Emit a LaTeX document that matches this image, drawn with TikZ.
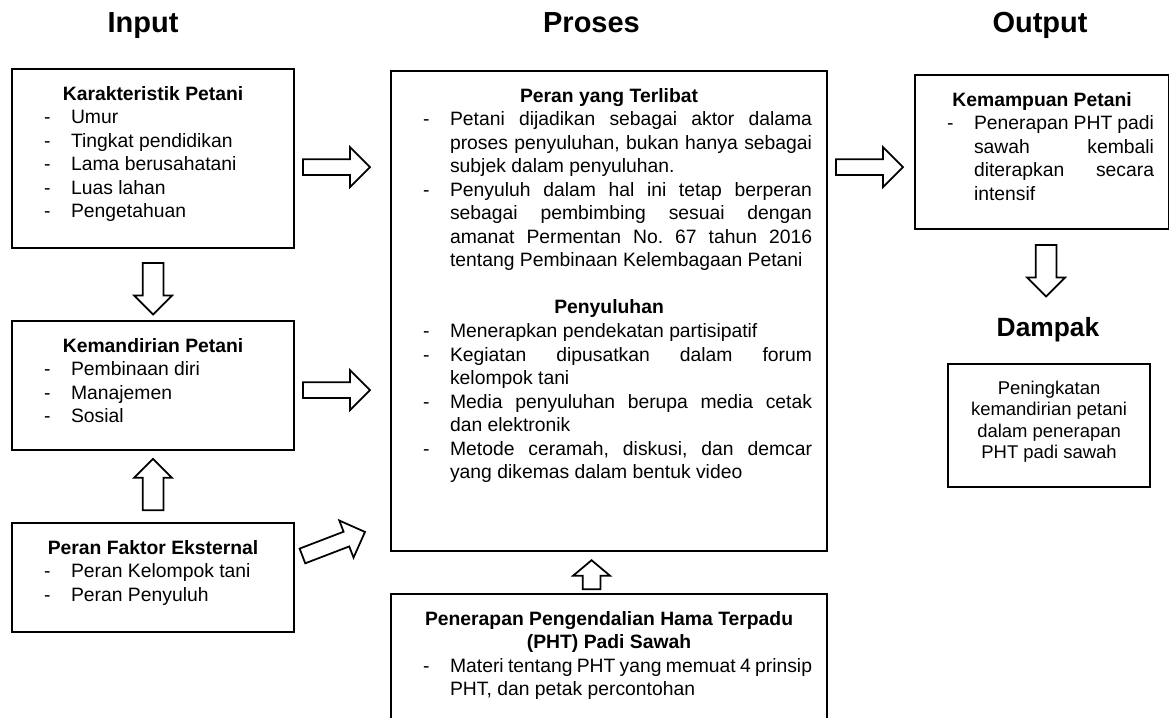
\documentclass[tikz,border=0pt]{standalone}
\usepackage{fontspec}
\setmainfont{Liberation Sans}
\usetikzlibrary{positioning,calc,shapes.arrows}
\hyphenpenalty=10000
\frenchspacing
\newcommand{\boxbody}[3]{\parbox[t][#1][t]{#2}{\vspace*{0.06cm}#3}}
\newcommand{\ttl}[1]{{\centering\bfseries #1\par}}
\newcommand{\itm}[1]{\par{\hangindent=0.88cm\hangafter=1\noindent\hspace*{0.34cm}\makebox[0.54cm][l]{-}#1\par}}

\begin{document}
\begin{tikzpicture}[
  font=\fontsize{11}{13.4}\selectfont,
  box/.style={draw,line width=1.2pt,inner xsep=0.3cm,inner ysep=0.28cm,anchor=north west},
  hdr/.style={font=\fontsize{16.5}{20}\selectfont\bfseries,anchor=base},
  barr/.style={single arrow,draw,fill=white,line width=1pt,inner xsep=0pt,
               text height=0pt,text depth=0pt,single arrow tip angle=90},
  rarr/.style={barr,inner ysep=0.14cm,single arrow head extend=0.24cm,minimum height=1.34cm},
  varr/.style={barr,inner ysep=0.19cm,single arrow head extend=0.17cm,minimum height=1.03cm}]
\clip (0,0) rectangle (23.38,-14.36);
% headings
\node[hdr] (tin)  at (2.86,-0.66)  {Input};
\node[hdr] (tpro) at (11.83,-0.66) {Proses};
\node[hdr] (tout) at (20.8,-0.66)  {Output};
% input column
\node[box] (kar) at (0.22,-1.36) {\boxbody{3.02cm}{5.04cm}{\ttl{Karakteristik Petani}
  \itm{Umur}\itm{Tingkat pendidikan}\itm{Lama berusahatani}\itm{Luas lahan}\itm{Pengetahuan}}};
\node[box,below=1.42cm of kar] (kem) {\boxbody{2.02cm}{5.04cm}{\ttl{Kemandirian Petani}
  \itm{Pembinaan diri}\itm{Manajemen}\itm{Sosial}}};
\node[box,below=1.42cm of kem] (eks) {\boxbody{1.62cm}{5.04cm}{\ttl{Peran Faktor Eksternal}
  \itm{Peran Kelompok tani}\itm{Peran Penyuluh}}};
% process column
\node[box] (pro) at (7.8,-1.4) {\boxbody{9.04cm}{8.12cm}{\ttl{Peran yang Terlibat}
  \itm{Petani dijadikan sebagai aktor dalama\linebreak proses penyuluhan, bukan hanya sebagai\linebreak subjek dalam penyuluhan.}
  \itm{Penyuluh dalam hal ini tetap berperan\linebreak sebagai pembimbing sesuai dengan\linebreak amanat Permentan No. 67 tahun 2016\linebreak tentang Pembinaan Kelembagaan Petani}
  \vspace{13.4pt}
  \ttl{Penyuluhan}
  \itm{Menerapkan pendekatan partisipatif}
  \itm{Kegiatan dipusatkan dalam forum\linebreak kelompok tani}
  \itm{Media penyuluhan berupa media cetak\linebreak dan elektronik}
  \itm{Metode ceramah, diskusi, dan demcar\linebreak yang dikemas dalam bentuk video}}};
\node[box,below=0.82cm of pro] (pht) {\boxbody{2.44cm}{8.12cm}{\ttl{Penerapan Pengendalian Hama Terpadu\\(PHT) Padi Sawah}
  \itm{Materi tentang PHT yang memuat 4 prinsip\linebreak PHT, dan petak percontohan}}};
% output column
\node[box] (out) at (18.28,-1.48) {\boxbody{2.52cm}{4.48cm}{\ttl{Kemampuan Petani}
  \itm{Penerapan PHT padi\linebreak sawah kembali\linebreak diterapkan secara\linebreak intensif}}};
\node[hdr,font=\fontsize{15}{18}\selectfont\bfseries] (tdam) at (20.96,-6.74) {Dampak};
\node[box,font=\fontsize{10.5}{12.2}\selectfont] (dam) at (18.94,-7.26) {\boxbody{1.90cm}{3.44cm}{\centering
  Peningkatan\\kemandirian petani\\dalam penerapan\\PHT padi sawah\par}};
% block arrows
\node[rarr,anchor=tail] (a1) at ($(kar.east)+(0.14,-0.17)$) {};
\node[rarr,anchor=tail] (a2) at ($(kem.east)+(0.14,-0.09)$) {};
\node[rarr,anchor=tail,rotate=21] (a3) at ($(eks.east)+(0.13,0.43)$) {};
\node[rarr,anchor=tail] (a4) at ($(pro.east|-a1.tail)+(0.14,0)$) {};
\node[varr,anchor=tail,rotate=-90] (a5) at ($(kar.south)+(0,-0.26)$) {};
\node[varr,anchor=tail,rotate=90] (a6) at ($(eks.north)+(0,0.22)$) {};
\node[varr,anchor=tail,rotate=-90] (a7) at ($(out.south)+(0.08,-0.28)$) {};
\node[barr,anchor=tail,rotate=90,inner ysep=0.16cm,single arrow head extend=0.19cm,
      minimum height=0.58cm,single arrow tip angle=100] (a8) at ($(pht.north)+(-0.35,0.06)$) {};
\end{tikzpicture}
\end{document}
